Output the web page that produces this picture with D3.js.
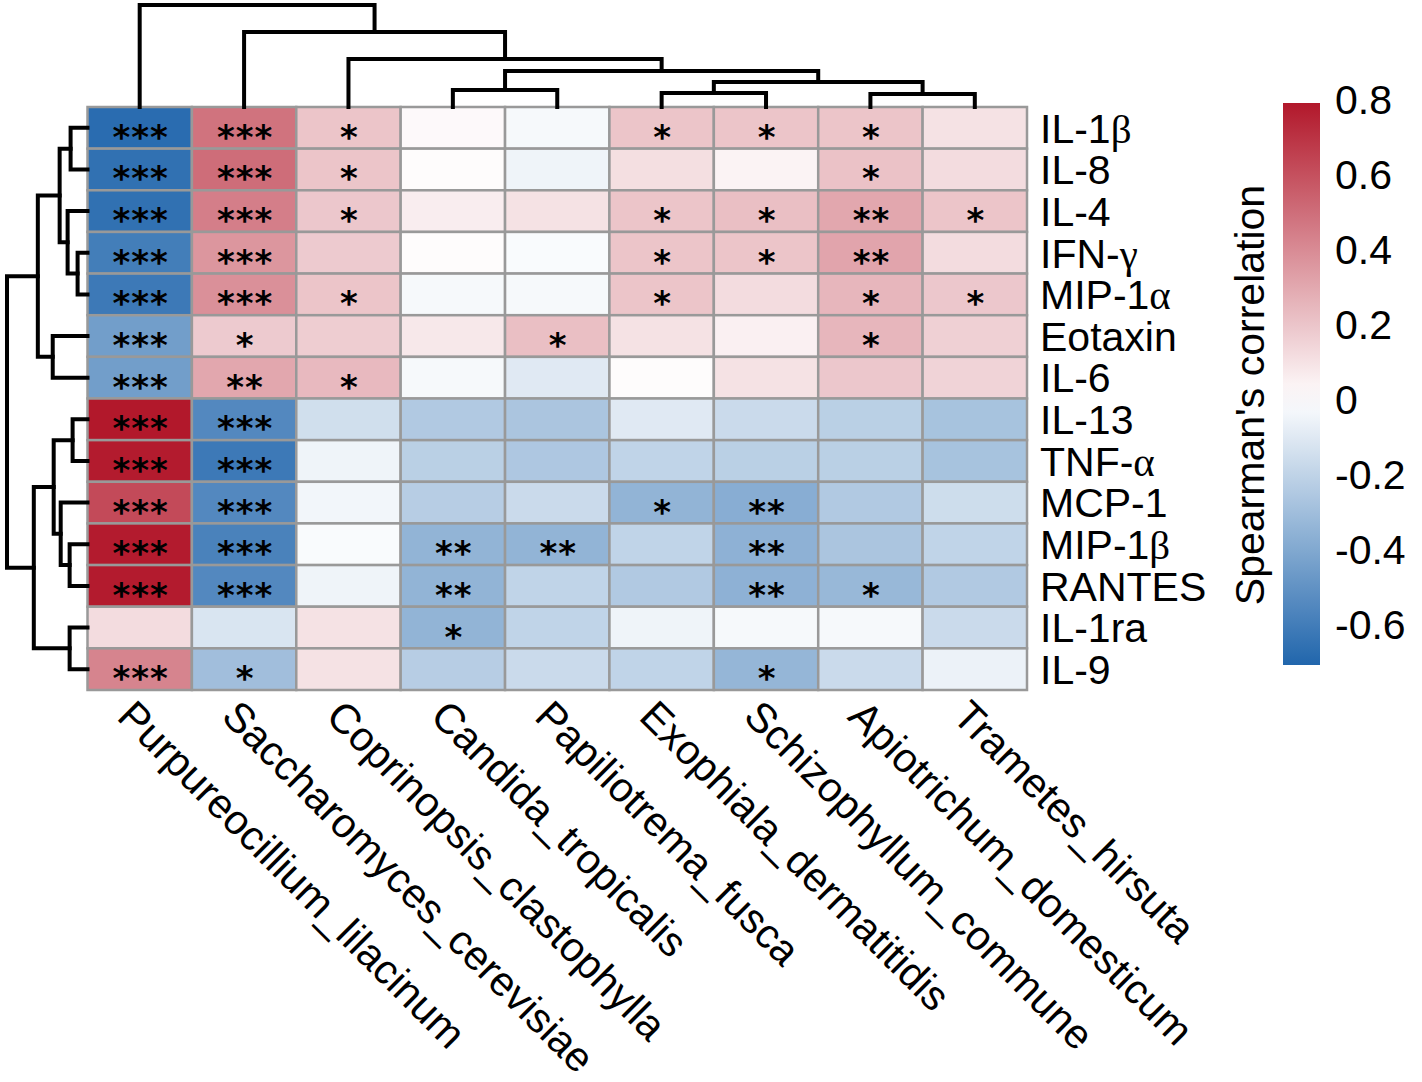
<!DOCTYPE html>
<html>
<head>
<meta charset="utf-8">
<script src="https://cdn.jsdelivr.net/npm/d3@7"></script>
<style>
  body { margin: 0; background: #fff; }
  text { font-family: "Liberation Sans", Arial, sans-serif; }
</style>
</head>
<body>
<div class="chart"></div>
<script>
// cytokines (rows) and fungi (columns), in the clustered order
const rowNames = ["IL-1β", "IL-8", "IL-4", "IFN-γ", "MIP-1α", "Eotaxin", "IL-6",
    "IL-13", "TNF-α", "MCP-1", "MIP-1β", "RANTES", "IL-1ra", "IL-9"];
const colNames = ["Purpureocillium_lilacinum", "Saccharomyces_cerevisiae", "Coprinopsis_clastophylla",
    "Candida_tropicalis", "Papiliotrema_fusca", "Exophiala_dermatitidis", "Schizophyllum_commune",
    "Apiotrichum_domesticum", "Trametes_hirsuta"];

// Spearman's rho, one array per column (rows in the order above)
const rhoPurpureocillium = [-0.68, -0.66, -0.66, -0.60, -0.62, -0.45, -0.45, 0.79, 0.78, 0.62, 0.78, 0.78, 0.12, 0.42];
const rhoSaccharomyces = [0.48, 0.50, 0.44, 0.36, 0.38, 0.18, 0.30, -0.55, -0.62, -0.55, -0.58, -0.55, -0.12, -0.30];
const rhoCoprinopsis = [0.20, 0.20, 0.19, 0.18, 0.20, 0.17, 0.24, -0.15, -0.05, -0.04, -0.02, -0.05, 0.10, 0.10];
const rhoCandida = [0.02, 0.01, 0.06, 0.01, -0.03, 0.08, -0.03, -0.25, -0.22, -0.23, -0.35, -0.35, -0.35, -0.23];
const rhoPapiliotrema = [-0.03, -0.05, 0.10, -0.02, -0.03, 0.22, -0.10, -0.27, -0.26, -0.17, -0.35, -0.20, -0.20, -0.17];
const rhoExophiala = [0.20, 0.11, 0.20, 0.20, 0.20, 0.10, 0.01, -0.10, -0.20, -0.35, -0.20, -0.25, -0.05, -0.20];
const rhoSchizophyllum = [0.20, 0.04, 0.22, 0.20, 0.12, 0.05, 0.10, -0.17, -0.22, -0.38, -0.36, -0.36, -0.03, -0.34];
const rhoApiotrichum = [0.20, 0.21, 0.30, 0.31, 0.25, 0.25, 0.19, -0.22, -0.22, -0.25, -0.27, -0.33, -0.03, -0.17];
const rhoTrametes = [0.10, 0.12, 0.20, 0.12, 0.19, 0.16, 0.15, -0.28, -0.28, -0.16, -0.20, -0.25, -0.17, -0.06];

// significance marks, same layout
const sigPurpureocillium = ["***", "***", "***", "***", "***", "***", "***", "***", "***", "***", "***", "***", "", "***"];
const sigSaccharomyces = ["***", "***", "***", "***", "***", "*", "**", "***", "***", "***", "***", "***", "", "*"];
const sigCoprinopsis = ["*", "*", "*", "", "*", "", "*", "", "", "", "", "", "", ""];
const sigCandida = ["", "", "", "", "", "", "", "", "", "", "**", "**", "*", ""];
const sigPapiliotrema = ["", "", "", "", "", "*", "", "", "", "", "**", "", "", ""];
const sigExophiala = ["*", "", "*", "*", "*", "", "", "", "", "*", "", "", "", ""];
const sigSchizophyllum = ["*", "", "*", "*", "", "", "", "", "", "**", "**", "**", "", "*"];
const sigApiotrichum = ["*", "*", "**", "**", "*", "*", "", "", "", "", "", "*", "", ""];
const sigTrametes = ["", "", "*", "", "*", "", "", "", "", "", "", "", "", ""];

// dendrograms: leaf index or [left, right, height]
const colTree = [0, [1, [2, [[3, 4, 0.167], [[5, 6, 0.137], [7, 8, 0.127], 0.245], 0.353], 0.47], 0.735], 1.0];
const rowTree = [
    [[[0, 1, 0.21], [2, [3, 4, 0.123], 0.247], 0.346], [5, 6, 0.432], 0.617],
    [[[7, 8, 0.185], [9, [10, 11, 0.222], 0.333], 0.42], [12, 13, 0.222], 0.667],
    1.0];

// legend
const legendTicks = [0.8, 0.6, 0.4, 0.2, 0, -0.2, -0.4, -0.6];
const legendTitle = "Spearman's correlation";

const rhoCols = [rhoPurpureocillium, rhoSaccharomyces, rhoCoprinopsis, rhoCandida, rhoPapiliotrema,
    rhoExophiala, rhoSchizophyllum, rhoApiotrichum, rhoTrametes];
const sigCols = [sigPurpureocillium, sigSaccharomyces, sigCoprinopsis, sigCandida, sigPapiliotrema,
    sigExophiala, sigSchizophyllum, sigApiotrichum, sigTrametes];

//Set SVG dimensions
const svgWidth = 1422;
const svgHeight = 1082;

const grid = { left: 87.5, right: 1027, top: 107, bottom: 690 };

let svg = d3.select(".chart")
    .append("svg")
    .attr("width", svgWidth)
    .attr("height", svgHeight);

//Scales
const xBand = d3.scaleBand().domain(d3.range(colNames.length)).range([grid.left, grid.right]);
const yBand = d3.scaleBand().domain(d3.range(rowNames.length)).range([grid.top, grid.bottom]);

const color = d3.scaleLinear()
    .domain([-0.71, 0, 0.79])
    .range(["#2166ac", "#ffffff", "#b2182b"]);

// flatten cells
const cells = [];
colNames.forEach((c, j) => {
    rowNames.forEach((r, i) => {
        cells.push({ i: i, j: j, v: rhoCols[j][i], s: sigCols[j][i] });
    });
});

const cellGroup = svg.append("g");

cellGroup.selectAll("rect")
    .data(cells)
    .enter()
    .append("rect")
    .attr("x", d => xBand(d.j))
    .attr("y", d => yBand(d.i))
    .attr("width", xBand.bandwidth())
    .attr("height", yBand.bandwidth())
    .attr("fill", d => color(d.v))
    .attr("stroke", "#999999")
    .attr("stroke-width", 2.5);

// stars: DejaVu asterisk is bigger for the same line height
cellGroup.selectAll("text")
    .data(cells.filter(d => d.s !== ""))
    .enter()
    .append("text")
    .attr("x", d => xBand(d.j) + xBand.bandwidth() / 2 + 1)
    .attr("y", d => yBand(d.i) + yBand.bandwidth() / 2 + 21)
    .attr("text-anchor", "middle")
    .style("font-family", "'DejaVu Sans', sans-serif")
    .attr("font-size", "34px")
    .attr("font-weight", "bold")
    .attr("letter-spacing", "1px")
    .attr("fill", "black")
    .text(d => d.s);

//Row labels, greek letters in serif
const rowLabels = svg.append("g").selectAll("text")
    .data(rowNames)
    .enter()
    .append("text")
    .attr("x", grid.right + 13)
    .attr("y", (d, i) => yBand(i) + yBand.bandwidth() / 2)
    .attr("dy", "0.36em")
    .attr("font-size", "41px")
    .attr("fill", "black");

rowLabels.each(function (d) {
    let t = d3.select(this);
    d.split(/([αβγ])/).filter(p => p !== "").forEach(p => {
        let span = t.append("tspan").text(p);
        if (/[αβγ]/.test(p)) span.style("font-family", "'Liberation Serif', serif");
    });
});

//Column labels, rotated
svg.append("g").selectAll("text")
    .data(colNames)
    .enter()
    .append("text")
    .attr("transform", (d, i) => `translate(${xBand(i) + xBand.bandwidth() / 2 - 3}, ${grid.bottom + 7}) rotate(45)`)
    .attr("dy", "0.72em")
    .attr("font-size", "41.5px")
    .attr("fill", "black")
    .text(d => d);

//Dendrograms
function build(node) {
    if (typeof node === "number") return { leaf: node, h: 0 };
    return { children: [build(node[0]), build(node[1])], h: node[2] };
}

function layout(n) {
    if (n.children) {
        n.children.forEach(layout);
        n.pos = (n.children[0].pos + n.children[1].pos) / 2;
    }
    return n;
}

const colRoot = d3.hierarchy(build(colTree));
colRoot.each(n => { if (!n.children) n.pos = xBand(n.data.leaf) + xBand.bandwidth() / 2; });
layout(colRoot);

const colH = d3.scaleLinear().domain([0, 1]).range([grid.top, 5]);

const rowRoot = d3.hierarchy(build(rowTree));
rowRoot.each(n => { if (!n.children) n.pos = yBand(n.data.leaf) + yBand.bandwidth() / 2; });
layout(rowRoot);

const rowH = d3.scaleLinear().domain([0, 1]).range([grid.left, 7]);

const dendro = svg.append("g")
    .attr("fill", "none")
    .attr("stroke", "black")
    .attr("stroke-width", 4)
    .attr("stroke-linecap", "square");

dendro.selectAll(".colLink")
    .data(colRoot.descendants().filter(n => n.children))
    .enter()
    .append("path")
    .attr("class", "colLink")
    .attr("d", n => {
        let a = n.children[0], b = n.children[1];
        let y = colH(n.data.h);
        return `M${a.pos},${colH(a.data.h)}V${y}H${b.pos}V${colH(b.data.h)}`;
    });

dendro.selectAll(".rowLink")
    .data(rowRoot.descendants().filter(n => n.children))
    .enter()
    .append("path")
    .attr("class", "rowLink")
    .attr("d", n => {
        let a = n.children[0], b = n.children[1];
        let x = rowH(n.data.h);
        return `M${rowH(a.data.h)},${a.pos}H${x}V${b.pos}H${rowH(b.data.h)}`;
    });

//Legend
const legY = d3.scaleLinear().domain([-0.71, 0.79]).range([665, 103]);

const grad = svg.append("defs").append("linearGradient")
    .attr("id", "legendGrad")
    .attr("x1", 0).attr("y1", 1).attr("x2", 0).attr("y2", 0);

d3.range(0, 1.0001, 0.05).forEach(t => {
    let v = -0.71 + t * 1.5;
    grad.append("stop").attr("offset", t).attr("stop-color", color(v));
});

svg.append("rect")
    .attr("x", 1283)
    .attr("y", legY(0.79))
    .attr("width", 37)
    .attr("height", legY(-0.71) - legY(0.79))
    .attr("fill", "url(#legendGrad)");

svg.append("g").selectAll("text")
    .data(legendTicks)
    .enter()
    .append("text")
    .attr("x", 1335)
    .attr("y", d => legY(d))
    .attr("dy", "0.36em")
    .attr("font-size", "41px")
    .text(d => d === 0 ? "0" : d.toFixed(1));

svg.append("text")
    .attr("transform", "translate(1264, 395) rotate(-90)")
    .attr("text-anchor", "middle")
    .attr("font-size", "41px")
    .text(legendTitle);
</script>
</body>
</html>
